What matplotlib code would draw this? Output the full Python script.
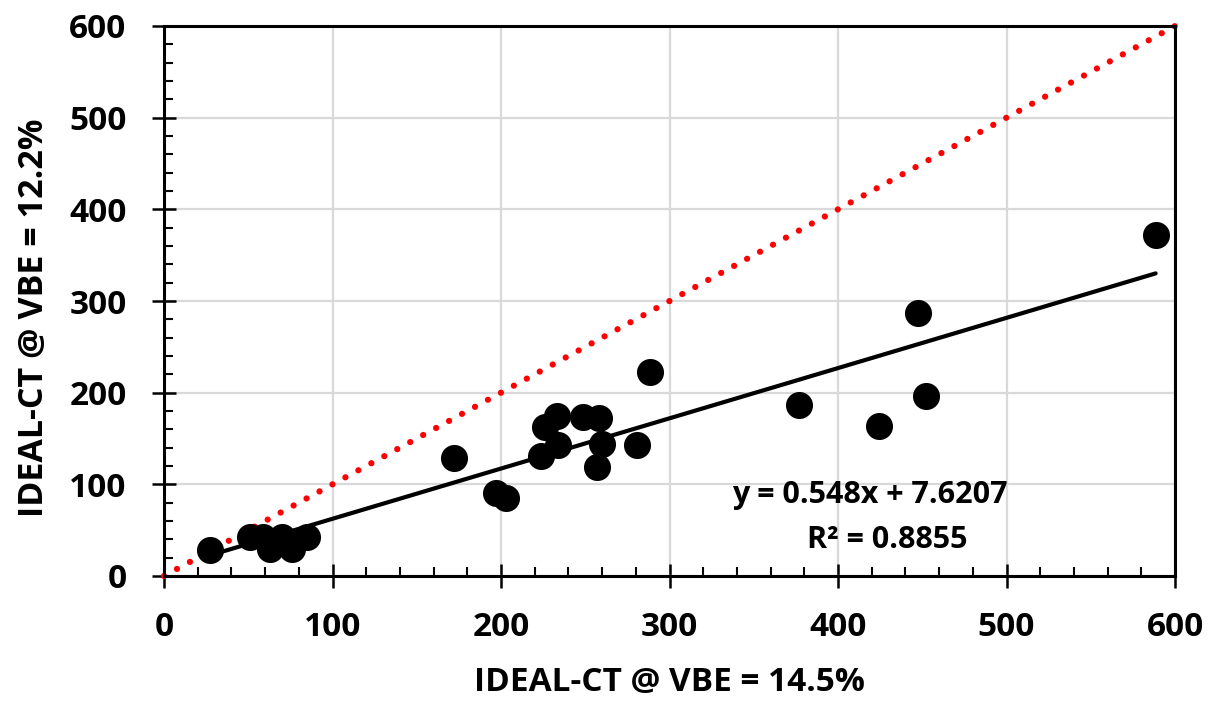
import matplotlib
matplotlib.use("Agg")
import matplotlib.pyplot as plt
import numpy as np
from matplotlib.ticker import MultipleLocator

plt.rcParams['font.family'] = ['Open Sans', 'DejaVu Sans']
plt.rcParams['font.weight'] = 'bold'

# IDEAL-CT index at two VBE levels
vbe_145 = [27.5, 51, 59, 63, 70, 76, 85,
           172, 197, 203, 224, 226, 233.5, 234, 248.5, 257, 258, 260, 281, 288.5,
           377, 424.5, 447.5, 452, 588.5]
vbe_122 = [28, 43, 43, 29, 43, 29, 43,
           129, 91, 85.5, 131, 163, 175, 143, 174, 118.5, 172.5, 144, 143, 223,
           187, 164, 287, 196, 372]

slope = 0.548
intercept = 7.6207
r_squared = 0.8855

x_ticks = [0, 100, 200, 300, 400, 500, 600]
y_ticks = [0, 100, 200, 300, 400, 500, 600]
x_label = "IDEAL-CT @ VBE = 14.5%"
y_label = "IDEAL-CT @ VBE = 12.2%"

fig = plt.figure(figsize=(12.19, 7.01), dpi=100)
ax = fig.add_axes([164 / 1219, 125 / 701, (1175 - 164) / 1219, (576 - 26) / 701])

ax.set_xlim(0, 600)
ax.set_ylim(0, 600)

ax.grid(True, which='major', color='#d9d9d9', linewidth=1.6, zorder=0)
ax.set_axisbelow(True)

# line of equality
ax.plot([0, 600], [0, 600], color='#ff0000', linewidth=4.5,
        linestyle=(0, (0.01, 2.35)), dash_capstyle='round', zorder=2, clip_on=False)

# data points
ax.scatter(vbe_145, vbe_122, s=380, color='black', zorder=3, linewidths=0)

# linear trendline
xs = np.array([min(vbe_145), max(vbe_145)])
ax.plot(xs, slope * xs + intercept, color='black', linewidth=3, zorder=4,
        solid_capstyle='round')

ax.text(419, 88, f"y = {slope}x + {intercept}", ha='center', va='center',
        fontsize=22, fontweight='bold', zorder=5)
ax.text(429, 39, f"R\u00b2 = {r_squared}", ha='center', va='center',
        fontsize=22, fontweight='bold', zorder=5)

ax.set_xticks(x_ticks)
ax.set_yticks(y_ticks)
ax.xaxis.set_minor_locator(MultipleLocator(20))
ax.yaxis.set_minor_locator(MultipleLocator(20))
ax.tick_params(which='major', direction='inout', length=17, width=1.8,
               labelsize=24)
ax.tick_params(axis='x', which='major', pad=16.5)
ax.tick_params(axis='y', which='major', pad=18.5)
ax.tick_params(which='minor', direction='in', length=6.5, width=1.5)
for lbl in ax.get_xticklabels() + ax.get_yticklabels():
    lbl.set_fontweight('bold')

for side in ['left', 'bottom', 'top', 'right']:
    ax.spines[side].set_linewidth(2.2)
    ax.spines[side].set_color('black')

ax.set_xlabel(x_label, fontsize=24, fontweight='bold', labelpad=16)
ax.set_ylabel(y_label, fontsize=24.5, fontweight='bold', labelpad=13, y=0.47)

fig.savefig("out.png", dpi=100)
